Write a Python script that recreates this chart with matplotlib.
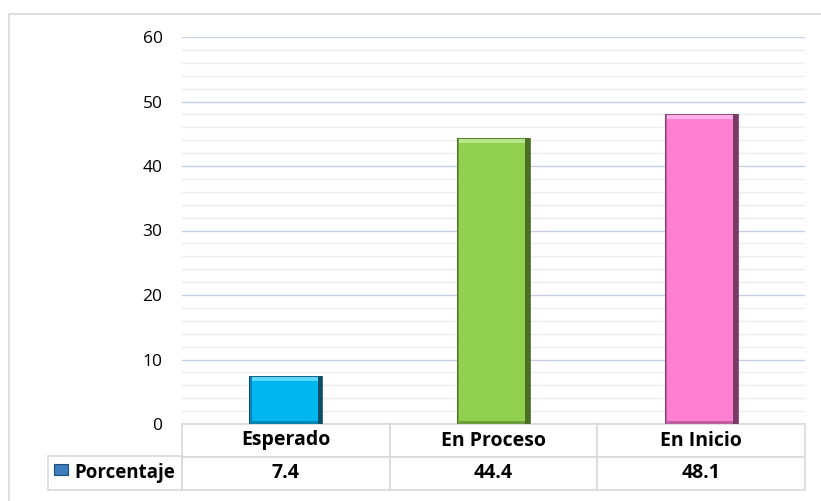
import matplotlib.pyplot as plt
import matplotlib.patches as mpatches

categorias = ['Esperado', 'En Proceso', 'En Inicio']
porcentaje = [7.4, 44.4, 48.1]
serie = 'Porcentaje'
colores = ['#00B6F0', '#92D050', '#FF80D2']
claros = ['#5AD6FF', '#B8E68A', '#FFB0EA']
medios = ['#0785B3', '#6E9E3C', '#C05FA0']
oscuros = ['#0A4F6A', '#4A6E23', '#7A3A66']

plt.rcParams['font.family'] = ['Open Sans', 'DejaVu Sans']

fig = plt.figure(figsize=(8.21, 5.01), dpi=100)
# borde exterior
fig.patches.append(mpatches.Rectangle((9 / 821, -0.01), 1.0, 1 - 14 / 501 + 0.01,
                                      transform=fig.transFigure, fill=False,
                                      edgecolor='#D9D9D9', linewidth=1.2))

ax = fig.add_axes([182 / 821, 1 - 424 / 501, 623 / 821, 387 / 501])

x = list(range(len(categorias)))
ancho = 0.35
bx = 0.022
by = 0.8
for i, v in enumerate(porcentaje):
    # bisel: lados oscuros, parte superior clara
    ax.bar(x[i], v, width=ancho, color=oscuros[i], zorder=3)
    ax.bar(x[i] - bx / 2, v, width=ancho - bx, color=medios[i], zorder=3)
    ax.bar(x[i] - bx / 4, v - by / 2, bottom=by / 2, width=ancho - 1.5 * bx,
           color=colores[i], zorder=3)
    ax.bar(x[i] - bx / 4, by, bottom=v - by, width=ancho - 1.5 * bx,
           color=claros[i], zorder=3)
    ax.bar(x[i], v, width=ancho, fill=False, edgecolor=oscuros[i], linewidth=0.6, zorder=4)

ax.set_xlim(-0.5, len(categorias) - 0.5)
ax.set_ylim(0, 60)
ax.set_yticks(range(0, 61, 10))
ax.set_yticks(range(0, 61, 2), minor=True)
ax.grid(axis='y', which='major', color='#C5CFE3', linewidth=1, zorder=0)
ax.grid(axis='y', which='minor', color='#EDEDED', linewidth=1, zorder=0)
ax.tick_params(axis='y', which='both', length=0, pad=14, labelsize=12.5)
ax.tick_params(axis='y', which='minor', labelleft=False)
ax.set_xticks([])
for s in ax.spines.values():
    s.set_visible(False)

alto = 66 / 387
fila = 34 / 387
tabla = ax.table(cellText=[[f'{v:.1f}' for v in porcentaje]],
                 colLabels=categorias, colWidths=[1 / 3] * 3,
                 cellLoc='center', bbox=[0, -alto, 1, alto])
tabla.auto_set_font_size(False)
for (r, c), celda in tabla.get_celld().items():
    celda.set_edgecolor('#D9D9D9')
    celda.set_linewidth(1.2)
    celda.get_text().set_fontsize(14)
    celda.get_text().set_fontweight('bold')

# celda de la serie con marcador de leyenda
ax.add_patch(mpatches.Rectangle((-134 / 623, -alto), 134 / 623, fila,
                                transform=ax.transAxes, clip_on=False, fill=False,
                                edgecolor='#D9D9D9', linewidth=1.2))
fila_y = -alto + fila / 2
ax.text(-108 / 623, fila_y, serie, transform=ax.transAxes, fontsize=13.5,
        fontweight='bold', ha='left', va='center')
ax.add_patch(mpatches.Rectangle((-128 / 623, fila_y - 2 / 387), 14 / 623, 11 / 387,
                                transform=ax.transAxes, clip_on=False,
                                facecolor='#3E7CC0', edgecolor='#1F4E79',
                                linewidth=0.8, zorder=5))

fig.savefig('out.png', dpi=100)
